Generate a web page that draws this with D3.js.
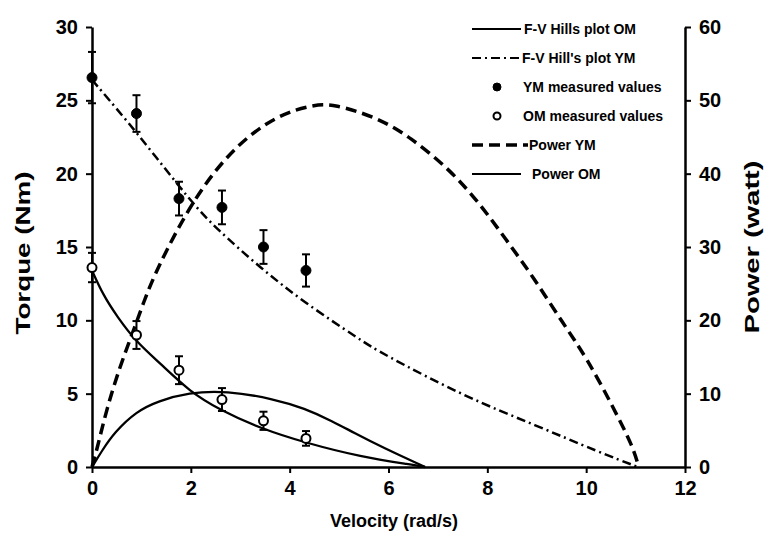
<!DOCTYPE html>
<html>
<head>
<meta charset="utf-8">
<script src="https://cdn.jsdelivr.net/npm/d3@7"></script>
<style>
  body { margin: 0; background: #fff; }
  svg { display: block; font-family: "Liberation Sans", Arial, sans-serif; }
</style>
</head>
<body>
<div class="chartView"></div>
<script>
// measured values (velocity rad/s, torque Nm, error +/-)
var measuredVel = [0, 0.9, 1.76, 2.63, 3.47, 4.33];
var ymTorque = [26.55, 24.1, 18.3, 17.7, 15.0, 13.4];
var ymErr = [1.75, 1.25, 1.15, 1.15, 1.15, 1.1];
var omTorque = [13.6, 9.0, 6.6, 4.6, 3.15, 1.95];
var omErr = [1.0, 0.95, 0.95, 0.78, 0.62, 0.5];

// F-V Hill's curves
var ymFvVel = [0, 0.1, 0.9, 2.02, 2.52, 3.4, 4.3, 5.42, 5.83, 7.58, 8.93, 10.28, 11.05];
var ymFvTorque = [26.4, 26.0, 22.85, 18.0, 16.25, 13.6, 11.2, 8.7, 7.8, 4.74, 2.92, 0.98, 0];
var omFvVel = [0, 0.23, 0.5, 0.89, 1.38, 1.98, 2.59, 3.4, 4.35, 5.43, 6.5, 6.74];
var omFvTorque = [13.4, 11.7, 10.3, 8.54, 7.07, 5.13, 3.89, 2.64, 1.62, 0.7, 0.14, 0];

// power curves (watt, right axis)
var ymPowVel = [0, 0.1, 0.3, 0.57, 0.84, 1.04, 1.31, 2.05, 2.86, 3.74, 4.48, 4.89, 5.76, 6.44, 7.25, 7.85, 8.39, 8.93, 9.54, 10.01, 10.55, 10.96, 11.06];
var ymPower = [0, 2.4, 8, 13.8, 18.6, 22.4, 27, 36.6, 43.6, 48.0, 49.4, 49.5, 47.7, 45, 40.5, 35.9, 30.9, 25.9, 19.5, 14.9, 8.1, 2.6, 0];
var omPowVel = [0, 0.2, 0.45, 0.9, 1.34, 1.95, 2.72, 3.67, 4.3, 4.88, 5.29, 5.9, 6.74];
var omPower = [0, 2.2, 4.7, 7.6, 9.0, 10.15, 10.4, 9.3, 8.0, 6.2, 4.7, 2.6, 0];

// tick labels
var xTicks = [0, 2, 4, 6, 8, 10, 12];
var torqueTicks = [0, 5, 10, 15, 20, 25, 30];
var powerTicks = [0, 10, 20, 30, 40, 50, 60];

var legendLabels = ["F-V Hills plot OM", "F-V Hill's plot YM", "YM measured values",
  "OM measured values", "Power YM", "Power OM"];

var svg = d3.select('.chartView').append('svg')
  .attr('width', 769)
  .attr('height', 540);

var x = d3.scaleLinear().domain([0, 12]).range([92, 685]);
var yT = d3.scaleLinear().domain([0, 30]).range([467, 27]);
var yP = d3.scaleLinear().domain([0, 60]).range([467, 27]);

var tickFont = function(g) {
  g.selectAll('text')
    .attr('font-size', 20)
    .attr('font-weight', 'bold')
    .attr('fill', '#000')
    .attr('font-family', '"Liberation Sans", Arial, sans-serif');
  g.selectAll('line').attr('stroke', '#000').attr('stroke-width', 2);
  g.select('.domain').attr('stroke', '#000').attr('stroke-width', 2.5);
};

//axes
svg.append('g')
  .attr('transform', 'translate(0,467)')
  .call(d3.axisBottom(x).tickValues(xTicks).tickFormat(d3.format('d')).tickSize(6).tickSizeOuter(0).tickPadding(8))
  .call(tickFont);

svg.append('g')
  .attr('transform', 'translate(92,0)')
  .call(d3.axisLeft(yT).tickValues(torqueTicks).tickSize(6).tickSizeOuter(0).tickPadding(8))
  .call(tickFont);

svg.append('g')
  .attr('transform', 'translate(685,0)')
  .call(d3.axisRight(yP).tickValues(powerTicks).tickSize(6).tickSizeOuter(0).tickPadding(8))
  .call(tickFont);

//axis titles
svg.append('text')
  .attr('x', 394).attr('y', 527)
  .attr('text-anchor', 'middle')
  .attr('font-size', 18).attr('font-weight', 'bold')
  .text('Velocity (rad/s)');

svg.append('text')
  .attr('transform', 'translate(30,253) rotate(-90)')
  .attr('text-anchor', 'middle')
  .attr('font-size', 20).attr('font-weight', 'bold')
  .attr('textLength', 163).attr('lengthAdjust', 'spacingAndGlyphs')
  .text('Torque (Nm)');

svg.append('text')
  .attr('transform', 'translate(759,247) rotate(-90)')
  .attr('text-anchor', 'middle')
  .attr('font-size', 20).attr('font-weight', 'bold')
  .attr('textLength', 173).attr('lengthAdjust', 'spacingAndGlyphs')
  .text('Power (watt)');

//lines
var pairs = function(a, b) { return a.map(function(v, i) { return [v, b[i]]; }); };

var torqueLine = d3.line()
  .x(function(d) { return x(d[0]); })
  .y(function(d) { return yT(d[1]); })
  .curve(d3.curveBasis);

var powerLine = d3.line()
  .x(function(d) { return x(d[0]); })
  .y(function(d) { return yP(d[1]); })
  .curve(d3.curveBasis);

var styles = {
  omFv: { width: 2.3, dash: null },
  ymFv: { width: 2.5, dash: '9,4,2,4' },
  ymPow: { width: 3.5, dash: '11,6' },
  omPow: { width: 2.3, dash: null }
};

var drawPath = function(d, st) {
  svg.append('path')
    .attr('d', d)
    .attr('fill', 'none')
    .attr('stroke', '#000')
    .attr('stroke-width', st.width)
    .attr('stroke-dasharray', st.dash);
};

drawPath(torqueLine(pairs(omFvVel, omFvTorque)), styles.omFv);
drawPath(torqueLine(pairs(ymFvVel, ymFvTorque)), styles.ymFv);
drawPath(powerLine(pairs(ymPowVel, ymPower)), styles.ymPow);
drawPath(powerLine(pairs(omPowVel, omPower)), styles.omPow);

//error bars and markers
var drawPoints = function(vals, errs, filled) {
  var g = svg.append('g');
  var pts = measuredVel.map(function(v, i) { return { v: v, t: vals[i], e: errs[i] }; });
  var bars = g.selectAll('g.err').data(pts).enter().append('g').attr('class', 'err')
    .attr('stroke', '#000').attr('stroke-width', 2);
  bars.append('line')
    .attr('x1', function(d) { return x(d.v); }).attr('x2', function(d) { return x(d.v); })
    .attr('y1', function(d) { return yT(d.t + d.e); }).attr('y2', function(d) { return yT(d.t - d.e); });
  bars.append('line')
    .attr('x1', function(d) { return x(d.v) - 4; }).attr('x2', function(d) { return x(d.v) + 4; })
    .attr('y1', function(d) { return yT(d.t + d.e); }).attr('y2', function(d) { return yT(d.t + d.e); });
  bars.append('line')
    .attr('x1', function(d) { return x(d.v) - 4; }).attr('x2', function(d) { return x(d.v) + 4; })
    .attr('y1', function(d) { return yT(d.t - d.e); }).attr('y2', function(d) { return yT(d.t - d.e); });
  g.selectAll('circle').data(pts).enter().append('circle')
    .attr('cx', function(d) { return x(d.v); })
    .attr('cy', function(d) { return yT(d.t); })
    .attr('r', filled ? 5 : 4.5)
    .attr('fill', filled ? '#000' : '#fff')
    .attr('stroke', '#000')
    .attr('stroke-width', filled ? 1 : 2);
};

drawPoints(ymTorque, ymErr, true);
drawPoints(omTorque, omErr, false);

//legend
var legendY = [29, 58, 87, 116, 145, 174];
var legendTextX = [524, 522, 523, 523, 529, 532];
var legend = svg.append('g');

legendLabels.forEach(function(label, i) {
  var y = legendY[i];
  if (i === 2 || i === 3) {
    legend.append('circle')
      .attr('cx', 497).attr('cy', y)
      .attr('r', i === 2 ? 4 : 3.5)
      .attr('fill', i === 2 ? '#000' : '#fff')
      .attr('stroke', '#000').attr('stroke-width', i === 2 ? 1 : 2);
  } else {
    var st = [styles.omFv, styles.ymFv, null, null, styles.ymPow, styles.omPow][i];
    legend.append('line')
      .attr('x1', 472).attr('x2', i === 4 ? 528 : 521)
      .attr('y1', y).attr('y2', y)
      .attr('stroke', '#000')
      .attr('stroke-width', i === 4 ? 3.5 : 2)
      .attr('stroke-dasharray', st.dash);
  }
  legend.append('text')
    .attr('x', legendTextX[i]).attr('y', y)
    .attr('dy', '0.35em')
    .attr('font-size', 14).attr('font-weight', 'bold')
    .text(label);
});
</script>
</body>
</html>
